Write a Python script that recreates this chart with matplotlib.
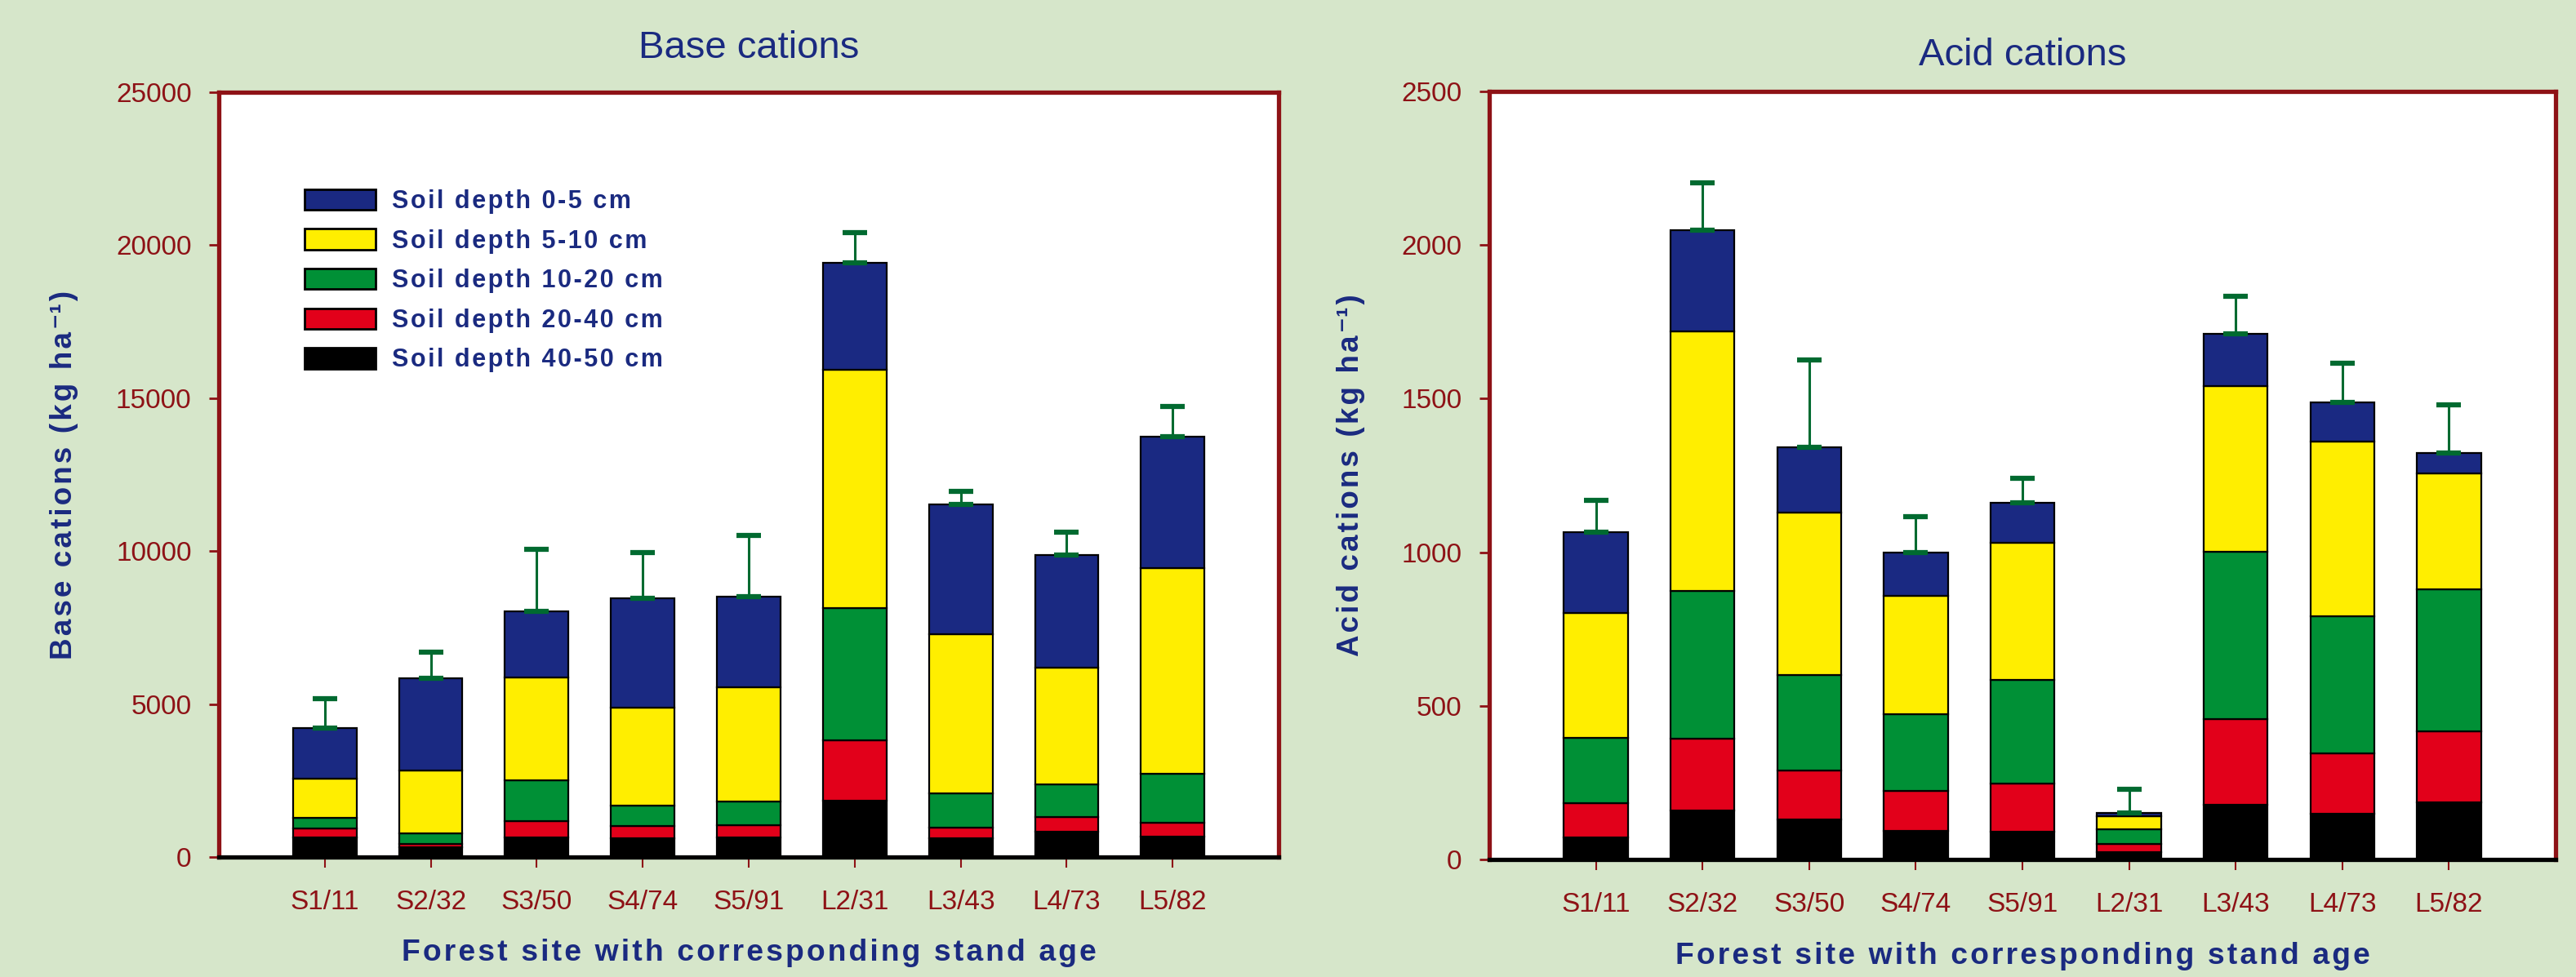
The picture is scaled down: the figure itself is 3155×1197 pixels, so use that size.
import matplotlib
matplotlib.use("Agg")
import matplotlib.pyplot as plt
from matplotlib.patches import Patch
import numpy as np

plt.rcParams['font.family'] = ['Liberation Sans', 'DejaVu Sans']

sites = ['S1/11', 'S2/32', 'S3/50', 'S4/74', 'S5/91', 'L2/31', 'L3/43', 'L4/73', 'L5/82']
depths = ['Soil depth 40-50 cm', 'Soil depth 20-40 cm', 'Soil depth 10-20 cm',
          'Soil depth 5-10 cm', 'Soil depth 0-5 cm']

# base cations (kg/ha) per layer, deepest first
base_40_50 = [650, 330, 630, 610, 650, 1850, 610, 820, 670]
base_20_40 = [280, 100, 550, 400, 390, 1960, 340, 480, 460]
base_10_20 = [350, 340, 1330, 670, 770, 4340, 1120, 1070, 1590]
base_5_10 = [1280, 2060, 3350, 3200, 3740, 7770, 5210, 3820, 6720]
base_0_5 = [1660, 3010, 2180, 3570, 2970, 3500, 4240, 3690, 4310]
base_err = [960, 860, 2030, 1490, 1990, 980, 430, 740, 990]

# acid cations (kg/ha) per layer, deepest first
acid_40_50 = [73, 159, 130, 94, 91, 25, 179, 150, 186]
acid_20_40 = [110, 235, 159, 130, 157, 25, 278, 195, 231]
acid_10_20 = [214, 480, 311, 250, 336, 49, 545, 448, 462]
acid_5_10 = [406, 845, 529, 383, 446, 41, 540, 567, 379]
acid_0_5 = [262, 330, 212, 143, 132, 12, 168, 127, 65]
acid_err = [104, 154, 284, 117, 80, 76, 123, 129, 156]

colors = ['#000000', '#e2001a', '#009036', '#ffee00', '#1a2982']
bg = '#d6e6ca'
navy = '#1a2a80'
darkred = '#8e1216'
errgreen = '#006a30'

HAIR = '\u200a'


def spaced(s):
    # loosen the letter spacing a little
    return HAIR.join(s)


fig = plt.figure(figsize=(31.55, 11.97), dpi=100, facecolor=bg)
ax1 = fig.add_axes([0.0849, 0.1228, 0.4115, 0.7828])
ax2 = fig.add_axes([0.5781, 0.1203, 0.4140, 0.7861])


def draw(ax, layers, err, ymax, step, title, ylab, title_pad, ylab_x):
    x = np.arange(len(sites))
    bottom = np.zeros(len(sites))
    for vals, c, lab in zip(layers, colors, depths):
        ax.bar(x, vals, 0.6, bottom=bottom, color=c, edgecolor='black',
               linewidth=1.6, label=lab, zorder=2)
        bottom = bottom + np.array(vals)
    ax.errorbar(x, bottom, yerr=[np.zeros(len(sites)), err], fmt='none',
                ecolor=errgreen, elinewidth=2.2, capsize=11, capthick=4.5, zorder=3)
    ax.set_xlim(-1, 9)
    ax.set_ylim(0, ymax)
    ax.set_yticks(np.arange(0, ymax + 1, step))
    ax.set_xticks(x)
    ax.set_xticklabels(sites)
    ax.set_facecolor('white')
    for s in ['top', 'right', 'left']:
        ax.spines[s].set_color(darkred)
        ax.spines[s].set_linewidth(3.8)
    ax.spines['bottom'].set_color('black')
    ax.spines['bottom'].set_linewidth(3.8)
    ax.tick_params(axis='y', colors=darkred, labelsize=24, length=9, width=2, pad=15)
    ax.tick_params(axis='x', colors=darkred, labelsize=24, length=9, width=1.5, pad=20)
    ax.set_title(title, fontsize=34, color=navy, pad=title_pad)
    ax.set_xlabel(spaced('Forest site with corresponding stand age'), fontsize=26.8,
                  fontweight='bold', color=navy)
    ax.xaxis.set_label_coords(0.5, -0.107)
    ax.set_ylabel(spaced(ylab) + HAIR + '\u207b\u00b9' + HAIR + ')', fontsize=26.5,
                  fontweight='bold', color=navy)
    ax.yaxis.set_label_coords(ylab_x, 0.5)


draw(ax1, [base_40_50, base_20_40, base_10_20, base_5_10, base_0_5], base_err,
     25000, 5000, 'Base cations', 'Base cations (kg ha', 30, -0.132)
draw(ax2, [acid_40_50, acid_20_40, acid_10_20, acid_5_10, acid_0_5], acid_err,
     2500, 500, 'Acid cations', 'Acid cations (kg ha', 23, -0.116)

handles = [Patch(facecolor=c, edgecolor='black', linewidth=2, label=spaced(l))
           for c, l in zip(colors, depths)][::-1]
leg = ax1.legend(handles=handles, loc='upper left', bbox_to_anchor=(0.1135, 0.819),
                 bbox_transform=fig.transFigure, frameon=False, borderpad=0,
                 handlelength=2.85, handleheight=0.9, handletextpad=0.65,
                 labelspacing=0.6, prop={'weight': 'bold', 'size': 22})
for t in leg.get_texts():
    t.set_color(navy)

fig.savefig('out.png', dpi=100, facecolor=bg)
